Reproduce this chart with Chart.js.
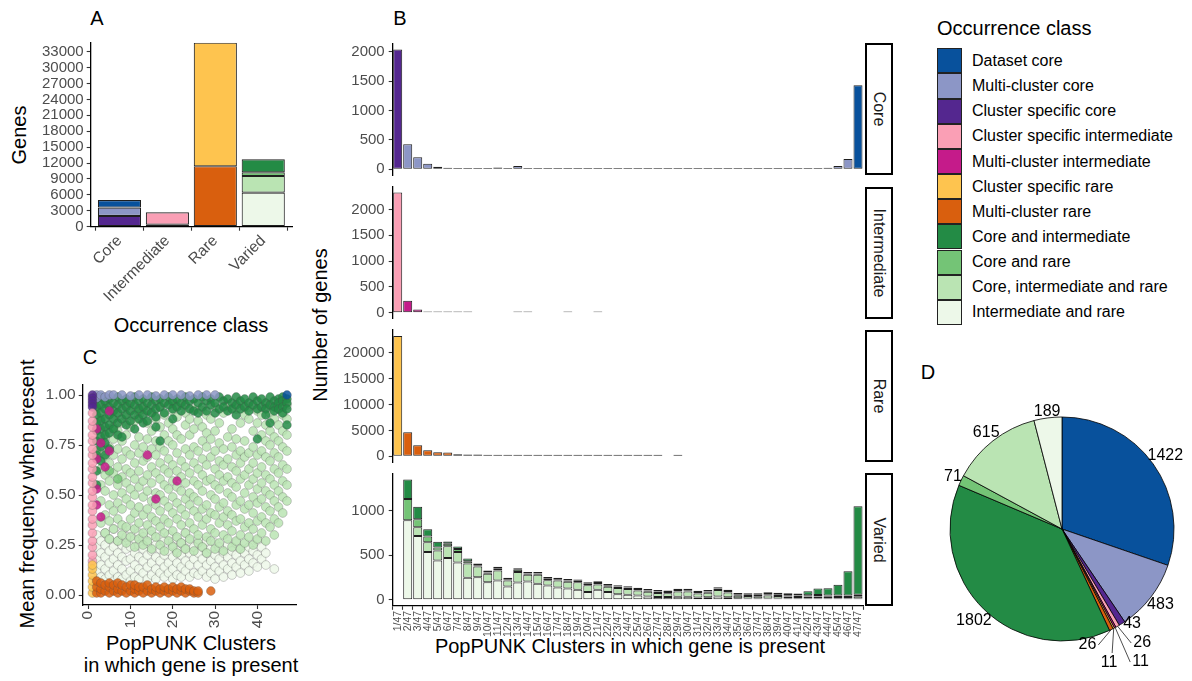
<!DOCTYPE html>
<html>
<head>
<meta charset="utf-8">
<title>Occurrence classes</title>
<script src="https://cdn.jsdelivr.net/npm/chart.js@4.4.1/dist/chart.umd.min.js"></script>
<style>
  html,body{margin:0;padding:0;background:#fff;}
  body{width:1192px;height:681px;position:relative;overflow:hidden;font-family:'Liberation Sans',Arial,Helvetica,sans-serif;color:#000;}
  canvas{position:absolute;}
  .lbl{position:absolute;white-space:nowrap;line-height:1;transform:translate(-50%,-50%);}
  .vert{transform:translate(-50%,-50%) rotate(-90deg);}
  .strip{position:absolute;box-sizing:border-box;border:2px solid #000;background:#fff;}
  .strip span{position:absolute;left:50%;top:50%;transform:translate(-50%,-50%) rotate(90deg);white-space:nowrap;font-size:16px;color:#1a1a1a;line-height:1;}
  .key{position:absolute;box-sizing:border-box;border:1px solid #222;width:25px;}
  .ktxt{position:absolute;font-size:16px;line-height:1;white-space:nowrap;transform:translateY(-50%);color:#000;}
</style>
</head>
<body>
<div class="lbl" style="left:97px;top:18px;font-size:20px">A</div>
<div class="lbl" style="left:400px;top:18px;font-size:20px">B</div>
<div class="lbl" style="left:90px;top:357px;font-size:20px">C</div>
<div class="lbl" style="left:928px;top:372px;font-size:20px">D</div>
<div class="lbl vert" style="left:19px;top:135px;font-size:20px">Genes</div>
<div class="lbl" style="left:191px;top:325px;font-size:20px">Occurrence class</div>
<div class="lbl vert" style="left:320px;top:325px;font-size:20px">Number of genes</div>
<div class="lbl" style="left:630px;top:646px;font-size:20px">PopPUNK Clusters in which gene is present</div>
<div class="lbl vert" style="left:27px;top:494px;font-size:20px">Mean frequency when present</div>
<div class="lbl" style="left:191px;top:643px;font-size:20px">PopPUNK Clusters</div>
<div class="lbl" style="left:191px;top:665px;font-size:20px">in which gene is present</div>
<div style="position:absolute;left:937px;top:28px;transform:translateY(-50%);font-size:20px;line-height:1;white-space:nowrap">Occurrence class</div>

<script>
// ---------------- DATA ----------------
const classNames = ['Dataset core','Multi-cluster core','Cluster specific core','Cluster specific intermediate','Multi-cluster intermediate','Cluster specific rare','Multi-cluster rare','Core and intermediate','Core and rare','Core, intermediate and rare','Intermediate and rare'];
const classColors = ['#08519c','#8c96c6','#54278f','#fa9fb5','#c51b8a','#fec44f','#d95f0e','#238b45','#74c476','#bae4b3','#edf8e9'];

// Panel A
const aCategories = ['Core','Intermediate','Rare','Varied'];
const classCategory = [0,0,0,1,1,2,2,3,3,3,3];
const panelAValues = [1430,1560,2040,2325,390,23300,11400,2440,700,3150,6410];
const aYTicks = [0,3000,6000,9000,12000,15000,18000,21000,24000,27000,30000,33000];

// Panel B
const binLabels = ['1/47','2/47','3/47','4/47','5/47','6/47','7/47','8/47','9/47','10/47','11/47','12/47','13/47','14/47','15/47','16/47','17/47','18/47','19/47','20/47','21/47','22/47','23/47','24/47','25/47','26/47','27/47','28/47','29/47','30/47','31/47','32/47','33/47','34/47','35/47','36/47','37/47','38/47','39/47','40/47','41/47','42/47','43/47','44/47','45/47','46/47','47/47'];
const coreClusterSpecific = [2040,null,null,null,null,null,null,null,null,null,null,null,null,null,null,null,null,null,null,null,null,null,null,null,null,null,null,null,null,null,null,null,null,null,null,null,null,null,null,null,null,null,null,null,null,null,null];
const coreMultiCluster = [null,425,204,95,45,28,17,8,7,7,32,17,57,17,5,4,4,2,4,20,18,4,3,3,3,3,3,3,4,3,3,3,3,3,3,3,3,3,3,4,5,6,12,28,57,176,null];
const coreDataset = [null,null,null,null,null,null,null,null,null,null,null,null,null,null,null,null,null,null,null,null,null,null,null,null,null,null,null,null,null,null,null,null,null,null,null,null,null,null,null,null,null,null,null,null,null,null,1430];
const intClusterSpecific = [2330,null,null,null,null,null,null,null,null,null,null,null,null,null,null,null,null,null,null,null,null,null,null,null,null,null,null,null,null,null,null,null,null,null,null,null,null,null,null,null,null,null,null,null,null,null,null];
const intMultiCluster = [null,232,66,15,8,3,3,3,null,null,null,null,2,2,null,null,null,2,null,null,2,null,null,null,null,null,null,null,null,null,null,null,null,null,null,null,null,null,null,null,null,null,null,null,null,null,null];
const rareClusterSpecific = [23300,null,null,null,null,null,null,null,null,null,null,null,null,null,null,null,null,null,null,null,null,null,null,null,null,null,null,null,null,null,null,null,null,null,null,null,null,null,null,null,null,null,null,null,null,null,null];
const rareMultiCluster = [null,4615,2115,1154,770,705,385,320,320,190,150,120,100,80,70,55,45,40,30,25,20,18,15,12,10,8,6,null,4,null,null,null,null,null,null,null,null,null,null,null,null,null,null,null,null,null,null];
const variedIntRare = [null,892,716,537,440,470,418,246,254,198,216,149,194,205,179,160,138,127,112,86,112,86,63,56,49,37,32,30,35,34,26,28,38,28,16,12,11,13,10,8,6,6,6,5,4,3,2];
const variedCoreIntRare = [null,null,97,109,112,130,119,161,119,93,113,67,119,75,101,60,78,75,85,78,60,60,70,65,55,52,45,43,58,58,45,50,72,54,30,26,25,32,26,20,14,20,22,18,16,14,25];
const variedCoreRare = [null,239,90,63,35,30,34,26,11,15,20,12,23,5,5,11,5,5,5,4,9,4,4,4,3,3,2,2,3,3,2,2,3,2,2,1,1,2,2,1,1,2,2,2,2,2,3];
const variedCoreInt = [null,220,142,82,63,25,26,30,19,22,22,15,18,10,10,19,10,9,14,11,20,10,9,9,9,9,7,7,8,9,9,10,14,13,12,13,15,20,22,23,24,43,74,79,120,272,992];
const coreTicks = [0,500,1000,1500,2000];
const intTicks = [0,500,1000,1500,2000];
const rareTicks = [0,5000,10000,15000,20000];
const variedTicks = [0,500,1000];

// Panel C : [clusters present, [mean frequencies...]]
const cDatasetCore = [[47,[1.0]]];
const cMultiClusterCore = [[2,[1.0,0.985]],[3,[1.0]],[4,[0.99]],[5,[1.0]],[6,[1.0]],[8,[1.0]],[10,[0.995]],[12,[1.0]],[14,[1.0]],[16,[0.995]],[18,[1.0]],[20,[1.0]],[22,[1.0]],[24,[0.995]],[26,[1.0]],[28,[1.0]],[30,[1.0]]];
const cClusterSpecificCore = [[1,[1.0,0.985,0.97,0.955,0.94]]];
const cClusterSpecificInt = [[1,[0.17,0.20,0.24,0.27,0.31,0.35,0.38,0.42,0.45,0.49,0.52,0.56,0.59,0.63,0.66,0.70,0.73,0.77,0.80,0.84,0.87,0.91]]];
const cMultiClusterInt = [[5,[0.92,0.72]],[2,[0.83,0.68,0.53,0.45]],[3,[0.76,0.39]],[4,[0.64]],[14,[0.70]],[21,[0.57]],[16,[0.48]]];
const cClusterSpecificRare = [[1,[0.01,0.04,0.07,0.10,0.13,0.15]]];
const cMultiClusterRare = [[2,[0.01,0.04,0.07]],[3,[0.01,0.03,0.06]],[4,[0.02,0.05]],[5,[0.01,0.04,0.06]],[6,[0.02,0.05]],[7,[0.01,0.03,0.06]],[8,[0.02,0.05]],[9,[0.01,0.04]],[10,[0.02,0.05]],[11,[0.01,0.03,0.05]],[12,[0.02,0.04]],[13,[0.01,0.04]],[14,[0.02,0.05]],[15,[0.01,0.03]],[16,[0.02,0.04]],[17,[0.01,0.03]],[18,[0.02,0.04]],[19,[0.01,0.03]],[20,[0.02,0.04]],[21,[0.01,0.03]],[22,[0.02,0.04]],[23,[0.01,0.03]],[24,[0.02,0.03]],[25,[0.01,0.02]],[26,[0.01,0.02]],[29,[0.02]]];
const cCoreInt = [[2,[0.98,0.94,0.90,0.86,0.82,0.77,0.70,0.62,0.55]],[3,[0.99,0.95,0.91,0.87,0.83,0.79,0.74,0.67]],[4,[0.97,0.93,0.88,0.84,0.80,0.76,0.70]],[5,[0.98,0.94,0.90,0.85,0.81,0.73]],[6,[0.96,0.92,0.88,0.83]],[7,[0.99,0.95,0.91,0.86,0.80]],[8,[0.97,0.93,0.88,0.79]],[9,[0.98,0.94,0.90,0.85]],[10,[0.96,0.92,0.87]],[11,[0.99,0.95,0.90,0.83]],[12,[0.97,0.93,0.88]],[13,[0.98,0.94,0.90,0.86]],[14,[0.96,0.92,0.87]],[15,[0.99,0.95,0.91]],[16,[0.97,0.93,0.89,0.84]],[17,[0.98,0.94,0.77]],[18,[0.96,0.91]],[19,[0.99,0.95]],[20,[0.97,0.93,0.88]],[21,[0.98,0.94]],[22,[0.96,0.92]],[23,[0.99,0.95]],[24,[0.97,0.93]],[25,[0.98,0.92]],[26,[0.96,0.91]],[27,[0.99,0.94]],[28,[0.97,0.92]],[29,[0.98,0.95]],[30,[0.96,0.91]],[31,[0.99,0.93]],[32,[0.97,0.94]],[33,[0.98,0.92]],[34,[0.96,0.93]],[35,[0.99,0.95,0.90]],[36,[0.97,0.93]],[37,[0.98,0.94]],[38,[0.96,0.92]],[39,[0.99,0.95]],[40,[0.97,0.93,0.78]],[41,[0.98,0.94]],[42,[0.96,0.93,0.90]],[43,[0.99,0.95,0.86]],[44,[0.97,0.94,0.92]],[45,[0.98,0.96,0.93]],[46,[0.99,0.97,0.94,0.91]],[47,[0.98,0.96,0.93,0.85]]];
const cCoreRare = [[2,[0.93,0.72]],[3,[0.88]],[4,[0.96]],[5,[0.62]],[6,[0.84]],[7,[0.58]],[9,[0.97]],[12,[0.92]],[20,[0.96]]];
const cCoreIntRare = [[3,[0.36,0.47,0.55,0.63,0.71]],[4,[0.31,0.40,0.52,0.60,0.68,0.79]],[5,[0.28,0.37,0.45,0.57,0.66,0.74,0.83]],[6,[0.33,0.42,0.50,0.61,0.70,0.78,0.88]],[7,[0.27,0.38,0.46,0.55,0.64,0.73,0.82,0.91]],[8,[0.30,0.35,0.43,0.51,0.59,0.68,0.77,0.86]],[9,[0.26,0.34,0.48,0.56,0.63,0.72,0.80,0.89]],[10,[0.29,0.38,0.45,0.53,0.61,0.70,0.84,0.93]],[11,[0.24,0.33,0.41,0.50,0.58,0.66,0.75,0.87]],[12,[0.28,0.36,0.44,0.54,0.62,0.71,0.79,0.90]],[13,[0.25,0.31,0.40,0.49,0.57,0.67,0.74,0.93]],[14,[0.27,0.35,0.43,0.52,0.60,0.69,0.78,0.86]],[15,[0.23,0.32,0.39,0.47,0.56,0.64,0.73,0.82,0.91]],[16,[0.29,0.37,0.45,0.51,0.61,0.70,0.77,0.88]],[17,[0.25,0.34,0.42,0.50,0.58,0.66,0.74,0.84,0.94]],[18,[0.22,0.31,0.38,0.47,0.55,0.63,0.72,0.80,0.90]],[19,[0.27,0.36,0.44,0.53,0.61,0.68,0.77,0.86]],[20,[0.24,0.32,0.41,0.49,0.57,0.65,0.75,0.83,0.92]],[21,[0.21,0.29,0.38,0.46,0.54,0.62,0.71,0.80,0.89]],[22,[0.26,0.35,0.43,0.52,0.59,0.67,0.78,0.95]],[23,[0.23,0.31,0.40,0.48,0.56,0.64,0.73,0.85,0.91]],[24,[0.28,0.36,0.45,0.51,0.61,0.70,0.80,0.88]],[25,[0.22,0.33,0.42,0.49,0.57,0.66,0.74,0.83,0.93]],[26,[0.26,0.30,0.39,0.47,0.55,0.63,0.72,0.87]],[27,[0.24,0.35,0.43,0.52,0.60,0.68,0.77,0.84,0.92]],[28,[0.21,0.29,0.38,0.45,0.57,0.65,0.74,0.81,0.90]],[29,[0.27,0.33,0.41,0.50,0.58,0.69,0.78,0.88]],[30,[0.23,0.31,0.40,0.48,0.55,0.63,0.72,0.82,0.94]],[31,[0.26,0.36,0.44,0.53,0.60,0.67,0.76,0.86]],[32,[0.22,0.30,0.39,0.46,0.57,0.65,0.73,0.91]],[33,[0.28,0.35,0.42,0.51,0.59,0.68,0.79,0.95]],[34,[0.24,0.32,0.40,0.49,0.56,0.64,0.74,0.83]],[35,[0.27,0.37,0.45,0.54,0.62,0.70,0.78,0.93]],[36,[0.23,0.30,0.38,0.47,0.58,0.66,0.72,0.86,0.96]],[37,[0.26,0.34,0.43,0.51,0.60,0.69,0.77,0.90]],[38,[0.29,0.36,0.45,0.55,0.63,0.71,0.88,0.94]],[39,[0.25,0.33,0.41,0.49,0.58,0.66,0.74,0.82]],[40,[0.28,0.37,0.46,0.53,0.61,0.70,0.86,0.92]],[41,[0.31,0.39,0.48,0.56,0.64,0.72,0.80,0.90]],[42,[0.27,0.36,0.44,0.52,0.60,0.69,0.77,0.85,0.95]],[43,[0.34,0.42,0.50,0.58,0.67,0.75,0.82,0.91]],[44,[0.30,0.38,0.47,0.55,0.63,0.71,0.79,0.88]],[45,[0.36,0.44,0.52,0.61,0.69,0.77,0.85,0.93]],[46,[0.41,0.49,0.57,0.65,0.74,0.82,0.90,0.96]],[47,[0.47,0.55,0.63,0.72,0.80,0.88,0.95]]];
const cIntRare = [[2,[0.07,0.12,0.18,0.24,0.30]],[3,[0.09,0.15,0.21,0.27]],[4,[0.08,0.13,0.19,0.25,0.31]],[5,[0.10,0.16,0.22,0.28]],[6,[0.07,0.12,0.18,0.24,0.33]],[7,[0.09,0.15,0.21,0.27]],[8,[0.08,0.13,0.19,0.25,0.31]],[9,[0.10,0.17,0.23,0.29]],[10,[0.07,0.12,0.18,0.24,0.33]],[11,[0.09,0.15,0.21,0.28]],[12,[0.08,0.13,0.19,0.25,0.31]],[13,[0.11,0.17,0.23,0.29]],[14,[0.08,0.14,0.20,0.26]],[15,[0.10,0.16,0.22,0.30]],[16,[0.08,0.13,0.19,0.25]],[17,[0.11,0.17,0.23,0.29]],[18,[0.09,0.14,0.20,0.27]],[19,[0.11,0.16,0.22,0.30]],[20,[0.08,0.13,0.19,0.25]],[21,[0.10,0.16,0.22,0.28]],[22,[0.09,0.14,0.20,0.26]],[23,[0.12,0.17,0.23,0.31]],[24,[0.09,0.15,0.21,0.27]],[25,[0.11,0.18,0.24]],[26,[0.10,0.15,0.21,0.28]],[27,[0.12,0.18,0.24]],[28,[0.09,0.15,0.21,0.27]],[29,[0.11,0.17,0.23]],[30,[0.08,0.14,0.20,0.26]],[31,[0.12,0.18,0.24]],[32,[0.09,0.15,0.21]],[33,[0.13,0.19,0.25]],[34,[0.10,0.16,0.22]],[35,[0.14,0.20,0.26]],[36,[0.11,0.17,0.23]],[37,[0.15,0.21]],[38,[0.12,0.18,0.24]],[39,[0.16,0.22]],[40,[0.14,0.20,0.27]],[41,[0.18,0.24]],[42,[0.15,0.21]],[44,[0.13]]];
const cXTicks = [0,10,20,30,40];
const cYTicks = [0,0.25,0.5,0.75,1];

// Panel D
const pieValues = [1422,483,43,26,11,11,26,1802,71,615,189];

// ---------------- LAYOUT / STYLE ----------------
Chart.defaults.font.family = "'Liberation Sans', Arial, Helvetica, sans-serif";
Chart.defaults.color = '#4d4d4d';
const AX = {
  grid:{display:true, drawOnChartArea:false, drawTicks:true, tickLength:4, tickColor:'#333', tickWidth:1.1},
  border:{display:true, color:'#000', width:1.3}
};
const TICK_COLOR = '#4d4d4d';
const BAR_BORDER = 'rgba(0,0,0,0.88)';
function addCanvas(id,left,top,w,h){
  const c=document.createElement('canvas');c.id=id;c.width=w;c.height=h;
  c.style.left=left+'px';c.style.top=top+'px';c.style.width=w+'px';c.style.height=h+'px';
  document.body.appendChild(c);return c;
}
function rgba(hex,a){const n=parseInt(hex.slice(1),16);return `rgba(${n>>16},${(n>>8)&255},${n&255},${a})`;}
const baseOpts = {responsive:false, animation:false, devicePixelRatio:1, events:[], plugins:{legend:{display:false},tooltip:{enabled:false}}};

// Legend (HTML)
classNames.forEach((n,i)=>{
  const kt=48.3+25.15*i;
  const k=document.createElement('div');k.className='key';
  k.style.left='937px';k.style.top=kt+'px';k.style.height='25.15px';k.style.background=classColors[i];
  document.body.appendChild(k);
  const t=document.createElement('div');t.className='ktxt';t.textContent=n;
  t.style.left='972px';t.style.top=(kt+12.6)+'px';document.body.appendChild(t);
});

// ---------------- PANEL A ----------------
// ggplot stacks the first class on top, so datasets go bottom-up in reverse class order
const aTotals = aCategories.map((_,ci)=>panelAValues.reduce((s,v,i)=>classCategory[i]===ci?s+v:s,0));
const aMax = Math.max(...aTotals);
const aOrder = classNames.map((_,i)=>i).reverse();
new Chart(addCanvas('chartA',0,30,300,290),{
  type:'bar',
  data:{datasets: aOrder.map(i=>({label:classNames[i], data:[{x:classCategory[i]+1,y:panelAValues[i]}],
    backgroundColor:classColors[i], borderColor:BAR_BORDER, borderWidth:1.1, borderSkipped:false,
    barPercentage:0.9, categoryPercentage:1}))},
  options:{...baseOpts,
    layout:{padding:{left:0,right:8,top:12.7,bottom:0}},
    scales:{
      x:{type:'linear',min:0.4,max:4.6,stacked:true,offset:false,...AX,
        ticks:{color:TICK_COLOR,font:{size:15.5},autoSkip:false,minRotation:45,maxRotation:45,padding:1,callback:v=>aCategories[v-1]||''},
        afterBuildTicks:s=>{s.ticks=aCategories.map((_,i)=>({value:i+1}));},
        afterFit:s=>{s.height=93.3;s.paddingLeft=0;s.paddingRight=0;}},
      y:{type:'linear',min:0,max:aMax,stacked:true,...AX,
        ticks:{color:TICK_COLOR,font:{size:15},padding:3,autoSkip:false,callback:v=>String(v)},
        afterBuildTicks:s=>{s.ticks=aYTicks.map(v=>({value:v}));},
        afterFit:s=>{s.width=90.7;s.paddingTop=0;s.paddingBottom=0;}}
    }}
});

// ---------------- PANEL B ----------------
const facetDefs = [
  {strip:'Core', classes:[2,1,0], arrays:[coreClusterSpecific,coreMultiCluster,coreDataset], ticks:coreTicks},
  {strip:'Intermediate', classes:[4,3], arrays:[intMultiCluster,intClusterSpecific], ticks:intTicks},
  {strip:'Rare', classes:[6,5], arrays:[rareMultiCluster,rareClusterSpecific], ticks:rareTicks},
  {strip:'Varied', classes:[10,9,8,7], arrays:[variedIntRare,variedCoreIntRare,variedCoreRare,variedCoreInt], ticks:variedTicks}
];
const facetTop = [43.4,186.5,329.9,473.4];
const facetBottom = [175.3,318.8,462.2,605.8];
const B_LEFT = 310, B_AXIS_X = 392.7, B_RIGHT = 863, STRIP_L = 865, STRIP_W = 28;
facetDefs.forEach((f,fi)=>{
  const top=facetTop[fi], bot=facetBottom[fi], last=(fi===facetDefs.length-1);
  const cTop=Math.floor(top-6), padT=top-cTop, xH=last?36:0;
  const h=Math.ceil(padT+(bot-top)+xH+6), padB=h-padT-(bot-top)-xH;
  const w=STRIP_L-B_LEFT;
  const totals=binLabels.map((_,k)=>f.arrays.reduce((s,a)=>s+(a[k]||0),0));
  const maxT=Math.max(...totals);
  new Chart(addCanvas('chartB'+fi,B_LEFT,cTop,w,h),{
    type:'bar',
    data:{labels:binLabels, datasets:f.arrays.map((arr,j)=>({label:classNames[f.classes[j]], data:arr,
      backgroundColor:classColors[f.classes[j]], borderColor:BAR_BORDER, borderWidth:1, borderSkipped:false,
      minBarLength:1.4, barPercentage:0.9, categoryPercentage:1}))},
    options:{...baseOpts,
      layout:{padding:{left:0,right:STRIP_L-B_RIGHT,top:padT,bottom:padB}},
      scales:{
        x:{type:'category',stacked:true,offset:true,display:last,...AX,
          ticks:{color:TICK_COLOR,font:{size:10.5},autoSkip:false,minRotation:90,maxRotation:90,padding:1},
          afterFit:s=>{s.height=xH;s.paddingLeft=0;s.paddingRight=0;}},
        y:{type:'linear',stacked:true,min:-0.05*maxT,max:1.05*maxT,...AX,
          ticks:{color:TICK_COLOR,font:{size:15},padding:4,autoSkip:false,callback:v=>String(v)},
          afterBuildTicks:s=>{s.ticks=f.ticks.map(v=>({value:v}));},
          afterFit:s=>{s.width=B_AXIS_X-B_LEFT;s.paddingTop=0;s.paddingBottom=0;}}
      }}
  });
  const st=document.createElement('div');st.className='strip';
  st.style.left=STRIP_L+'px';st.style.top=top+'px';st.style.width=STRIP_W+'px';st.style.height=(bot-top)+'px';
  st.innerHTML='<span>'+f.strip+'</span>';document.body.appendChild(st);
});

// ---------------- PANEL C ----------------
const cSeries = [
  [cMultiClusterRare,6],[cClusterSpecificRare,5],[cClusterSpecificInt,3],[cClusterSpecificCore,2],
  [cMultiClusterInt,4],[cDatasetCore,0],[cMultiClusterCore,1],[cCoreInt,7],[cCoreRare,8],[cCoreIntRare,9],[cIntRare,10]
];
new Chart(addCanvas('chartC',0,375,310,257),{
  type:'scatter',
  data:{datasets:cSeries.map(([cols,ci])=>({label:classNames[ci],
    data:cols.flatMap(([x,ys])=>ys.map(y=>({x:x,y:y}))),
    pointRadius:4.4, pointBackgroundColor:rgba(classColors[ci],0.85),
    pointBorderColor:'rgba(70,70,70,0.45)', pointBorderWidth:0.6}))},
  options:{...baseOpts,
    layout:{padding:{left:0,right:13.3,top:10,bottom:0}},
    scales:{
      x:{type:'linear',min:-1.3,max:49.3,...AX,
        ticks:{color:TICK_COLOR,font:{size:15.5},minRotation:90,maxRotation:90,padding:2,autoSkip:false,callback:v=>String(v)},
        afterBuildTicks:s=>{s.ticks=cXTicks.map(v=>({value:v}));},
        afterFit:s=>{s.height=27;s.paddingLeft=0;s.paddingRight=0;}},
      y:{type:'linear',min:-0.05,max:1.05,...AX,
        ticks:{color:TICK_COLOR,font:{size:15.5},padding:3,autoSkip:false,callback:v=>v.toFixed(2)},
        afterBuildTicks:s=>{s.ticks=cYTicks.map(v=>({value:v}));},
        afterFit:s=>{s.width=82.7;s.paddingTop=0;s.paddingBottom=0;}}
    }}
});

// ---------------- PANEL D ----------------
// label placement per slice: extra radius (px), angle shift (deg), leader line, text side
const pieLabelPlacement = [
  {d:15,a:0},{d:12,a:0},{d:6,a:-4},
  {d:21.4,a:-1.5,line:true,side:'left'},{d:37.5,a:1.2,line:true,side:'left'},
  {d:21.8,a:5.5,line:true,side:'below'},{d:9.5,a:8.7,line:true,side:'right'},
  {d:15,a:0},{d:9,a:0},{d:11,a:0},{d:6,a:0}
];
const pieLabels = {
  id:'pieLabels',
  afterDatasetsDraw(chart){
    const ctx=chart.ctx, meta=chart.getDatasetMeta(0);
    ctx.save();
    ctx.font="16px 'Liberation Sans', Arial, sans-serif";ctx.fillStyle='#000';ctx.strokeStyle='#000';ctx.lineWidth=0.7;
    meta.data.forEach((arc,i)=>{
      const p=arc.getProps(['x','y','startAngle','endAngle','outerRadius'],true);
      const pl=pieLabelPlacement[i];
      const mid=(p.startAngle+p.endAngle)/2, ang=mid+pl.a*Math.PI/180, R=p.outerRadius+pl.d;
      const lx=p.x+Math.cos(ang)*R, ly=p.y+Math.sin(ang)*R;
      if(pl.line){ctx.beginPath();ctx.moveTo(p.x+Math.cos(mid)*p.outerRadius,p.y+Math.sin(mid)*p.outerRadius);ctx.lineTo(lx,ly);ctx.stroke();}
      let tx=lx, ty=ly; ctx.textBaseline='middle';
      if(pl.side==='left'){ctx.textAlign='left';tx+=2;}
      else if(pl.side==='right'){ctx.textAlign='right';tx-=2;}
      else if(pl.side==='below'){ctx.textAlign='center';ty+=10;tx-=3;}
      else ctx.textAlign='center';
      ctx.fillText(String(pieValues[i]),tx,ty);
    });
    ctx.restore();
  }
};
new Chart(addCanvas('chartD',932,389,260,280),{
  type:'pie',
  data:{labels:classNames, datasets:[{data:pieValues, backgroundColor:classColors, borderColor:'#000', borderWidth:0.8, radius:112}]},
  options:{...baseOpts, layout:{padding:0}},
  plugins:[pieLabels]
});
</script>
</body>
</html>
